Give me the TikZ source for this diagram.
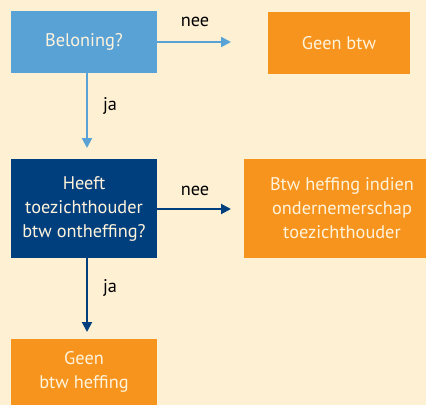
\documentclass[tikz,border=0pt]{standalone}
\usepackage{fontspec}
\setmainfont{PT Sans}
\usetikzlibrary{arrows.meta}
\definecolor{bg}{HTML}{FEF0D2}
\definecolor{lblue}{HTML}{59A2D6}
\definecolor{dblue}{HTML}{003F7D}
\definecolor{orng}{HTML}{F7941D}
\definecolor{txt}{HTML}{FFF3DC}
\begin{document}
\begin{tikzpicture}[x=1bp,y=-1bp,
  box/.style={rectangle, inner sep=0pt, align=center, text=txt,
    font=\fontsize{18.3bp}{24bp}\selectfont},
  lbl/.style={inner sep=0pt, anchor=base, text=black,
    font=\fontsize{18.3bp}{24bp}\selectfont},
  arr/.style={line width=2bp, -{Triangle[length=10bp,width=10bp]}}]
\useasboundingbox (0,0) rectangle (426,405);
\clip (0,0) rectangle (426,405);
\fill[bg] (0,0) rectangle (426,405);
\node[box, fill=lblue, minimum width=146bp, minimum height=62bp] (b1) at (84,42) {Beloning?};
\node[box, fill=orng, minimum width=142bp, minimum height=62bp] (g1) at (339,43) {Geen btw};
\node[box, fill=dblue, minimum width=146bp, minimum height=99bp] (b2) at (84,208.5) {Heeft\\toezichthouder\\btw ontheffing?};
\node[box, fill=orng, minimum width=196bp, minimum height=99bp] (o2) at (342,208.5) {Btw heffing indien\\ondernemerschap\\toezichthouder};
\node[box, fill=orng, minimum width=146bp, minimum height=66bp] (g2) at (84,372) {Geen\\btw heffing};
\coordinate (t1) at (231,42);
\coordinate (t2) at (87,148);
\coordinate (t3) at (231,209);
\coordinate (t4) at (87,332);
\draw[arr, lblue] (b1.east |- t1) -- (t1);
\draw[arr, lblue] (b1.south -| t2) -- (t2);
\draw[arr, dblue] (b2.east |- t3) -- (t3);
\draw[arr, dblue] (b2.south -| t4) -- (t4);
\node[lbl] (n1) at (195,26) {nee};
\node[lbl] (j1) at (110,110) {ja};
\node[lbl] (n2) at (195,195) {nee};
\node[lbl] (j2) at (110,292) {ja};
\end{tikzpicture}
\end{document}
